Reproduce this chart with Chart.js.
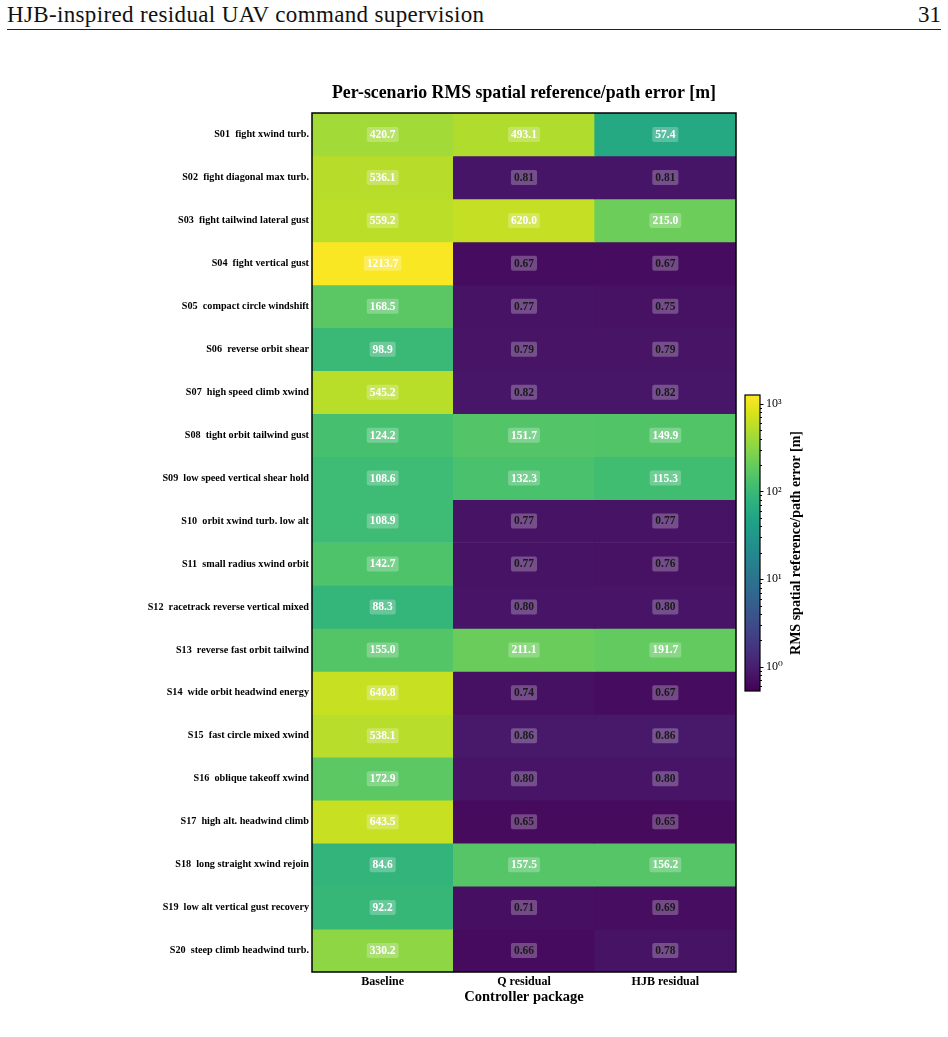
<!DOCTYPE html>
<html>
<head>
<meta charset="utf-8">
<script src="https://cdn.jsdelivr.net/npm/chart.js@4.4.1/dist/chart.umd.min.js"></script>
<style>
  body { margin: 0; background: #fff; width: 948px; height: 1037px; overflow: hidden; position: relative; }
  .page-head { position: absolute; left: 7px; top: 2px; width: 934px; font-family: "Liberation Serif", serif; font-size: 23px; letter-spacing: 0.35px; color: #111; }
  .page-head .num { position: absolute; right: 0; top: 0; letter-spacing: 0; }
  .page-rule { position: absolute; left: 7px; top: 29px; width: 934px; height: 1px; background: #222; }
  #heat { position: absolute; left: 0; top: 0; }
  #cbar { position: absolute; left: 720px; top: 380px; }
</style>
</head>
<body>
<div class="page-head">HJB-inspired residual UAV command supervision<span class="num">31</span></div>
<div class="page-rule"></div>
<canvas id="heat" width="948" height="1037"></canvas>
<canvas id="cbar" width="120" height="330"></canvas>
<script>
// scenarios (rows) and controller packages (columns)
const scenarios = [
  "S01  fight xwind turb.",
  "S02  fight diagonal max turb.",
  "S03  fight tailwind lateral gust",
  "S04  fight vertical gust",
  "S05  compact circle windshift",
  "S06  reverse orbit shear",
  "S07  high speed climb xwind",
  "S08  tight orbit tailwind gust",
  "S09  low speed vertical shear hold",
  "S10  orbit xwind turb. low alt",
  "S11  small radius xwind orbit",
  "S12  racetrack reverse vertical mixed",
  "S13  reverse fast orbit tailwind",
  "S14  wide orbit headwind energy",
  "S15  fast circle mixed xwind",
  "S16  oblique takeoff xwind",
  "S17  high alt. headwind climb",
  "S18  long straight xwind rejoin",
  "S19  low alt vertical gust recovery",
  "S20  steep climb headwind turb."
];
const controllers = ["Baseline", "Q residual", "HJB residual"];

// RMS error [m]
const baseline = [420.7, 536.1, 559.2, 1213.7, 168.5, 98.9, 545.2, 124.2, 108.6, 108.9, 142.7, 88.3, 155.0, 640.8, 538.1, 172.9, 643.5, 84.6, 92.2, 330.2];
const qResidual = [493.1, 0.81, 620.0, 0.67, 0.77, 0.79, 0.82, 151.7, 132.3, 0.77, 0.77, 0.80, 211.1, 0.74, 0.86, 0.80, 0.65, 157.5, 0.71, 0.66];
const hjbResidual = [57.4, 0.81, 215.0, 0.67, 0.75, 0.79, 0.82, 149.9, 115.3, 0.77, 0.76, 0.80, 191.7, 0.67, 0.86, 0.80, 0.65, 156.2, 0.69, 0.78];

// colorbar
const cbarTicks = [1, 10, 100, 1000];
const cbarTickLabels = ["10\u2070", "10\u00b9", "10\u00b2", "10\u00b3"];
const vmin = 0.53;
const vmax = 1260;

const SERIF = '"Liberation Serif", "DejaVu Serif", serif';
const TITLE = "Per-scenario RMS spatial reference/path error [m]";

// viridis, 17 stops
const viridis = ["#440154", "#48186a", "#472d7b", "#424086", "#3b528b", "#33638d", "#2c728e", "#26828e",
  "#21918c", "#1fa088", "#28ae80", "#3fbc73", "#5ec962", "#84d44b", "#addc30", "#d8e219", "#fde725"];
const hex = h => [parseInt(h.slice(1, 3), 16), parseInt(h.slice(3, 5), 16), parseInt(h.slice(5, 7), 16)];
const viridisRgb = viridis.map(hex);

const colorFor = v => {
  let t = (Math.log10(v) - Math.log10(vmin)) / (Math.log10(vmax) - Math.log10(vmin));
  t = Math.min(1, Math.max(0, t));
  const p = t * (viridisRgb.length - 1);
  const i = Math.min(Math.floor(p), viridisRgb.length - 2);
  const f = p - i;
  const a = viridisRgb[i], b = viridisRgb[i + 1];
  const c = a.map((x, k) => Math.round(x + (b[k] - x) * f));
  return `rgb(${c[0]}, ${c[1]}, ${c[2]})`;
};

const table = scenarios.map((_, i) => [baseline[i], qResidual[i], hjbResidual[i]]);

// cell value labels, frame and title over the plot
const cellLabels = {
  id: "cellLabels",
  afterDatasetsDraw(chart) {
    const ctx = chart.ctx;
    ctx.save();
    ctx.font = `bold 11.5px ${SERIF}`;
    ctx.textAlign = "center";
    ctx.textBaseline = "middle";
    chart.data.datasets.forEach((ds, i) => {
      chart.getDatasetMeta(i).data.forEach((el, j) => {
        const v = table[i][j];
        const txt = v >= 10 ? v.toFixed(1) : v.toFixed(2);
        const x = el.x;
        const y = (el.y + el.base) / 2;
        const w = ctx.measureText(txt).width + 6;
        const h = 15;
        ctx.fillStyle = "rgba(255, 255, 255, 0.25)";
        ctx.beginPath();
        ctx.roundRect(x - w / 2, y - h / 2, w, h, 2);
        ctx.fill();
        ctx.fillStyle = v >= 10 ? "#ffffff" : "#1a1a1a";
        ctx.fillText(txt, x, y + 0.5);
      });
    });
    const a = chart.chartArea;
    ctx.strokeStyle = "#000";
    ctx.lineWidth = 1.5;
    ctx.strokeRect(a.left, a.top, a.right - a.left, a.bottom - a.top);
    ctx.fillStyle = "#000";
    ctx.font = `bold 17.8px ${SERIF}`;
    ctx.fillText(TITLE, (a.left + a.right) / 2, 93);
    ctx.restore();
  }
};

new Chart(document.getElementById("heat"), {
  type: "bar",
  data: {
    labels: controllers,
    datasets: scenarios.map((s, i) => ({
      label: s,
      data: controllers.map(() => [i, i + 1]),
      backgroundColor: table[i].map(colorFor),
      borderWidth: 0,
      categoryPercentage: 1,
      barPercentage: 1
    }))
  },
  options: {
    responsive: false,
    animation: false,
    devicePixelRatio: 1,
    layout: { padding: { left: 0, right: 212, top: 113, bottom: 0 } },
    plugins: {
      legend: { display: false },
      tooltip: { enabled: false }
    },
    scales: {
      x: {
        stacked: true,
        grid: { display: false, drawTicks: false },
        border: { display: false },
        ticks: { color: "#000", font: { family: SERIF, size: 12, weight: "bold" }, padding: 3 },
        title: {
          display: true,
          text: "Controller package",
          color: "#000",
          font: { family: SERIF, size: 14.5, weight: "bold" },
          padding: { top: 0, bottom: 31 }
        },
        afterFit: s => { s.height = 65; }
      },
      y: {
        min: 0,
        max: scenarios.length,
        reverse: true,
        grid: { display: false, drawTicks: false },
        border: { display: false },
        afterBuildTicks: s => { s.ticks = scenarios.map((_, i) => ({ value: i + 0.5 })); },
        ticks: {
          autoSkip: false,
          color: "#000",
          font: { family: SERIF, size: 10.2, weight: "bold" },
          padding: 3,
          callback: (v, idx) => scenarios[idx]
        },
        afterFit: s => { s.width = 312; }
      }
    }
  },
  plugins: [cellLabels]
});

// colorbar: gradient, ticks and label on a log scale
const cbarDraw = {
  id: "cbarDraw",
  beforeDatasetsDraw(chart) {
    const ctx = chart.ctx, a = chart.chartArea, sc = chart.scales.y;
    for (let y = Math.floor(a.top); y < a.bottom; y++) {
      ctx.fillStyle = colorFor(sc.getValueForPixel(y + 0.5));
      ctx.fillRect(a.left, y, a.right - a.left, 1);
    }
  },
  afterDraw(chart) {
    const ctx = chart.ctx, a = chart.chartArea, sc = chart.scales.y;
    ctx.save();
    ctx.strokeStyle = "#000";
    ctx.lineWidth = 1;
    sc.ticks.forEach(t => {
      const y = Math.round(sc.getPixelForValue(t.value)) + 0.5;
      const len = cbarTicks.includes(t.value) ? 3.5 : 2;
      ctx.beginPath();
      ctx.moveTo(a.right, y);
      ctx.lineTo(a.right + len, y);
      ctx.stroke();
    });
    ctx.lineWidth = 1.2;
    ctx.strokeRect(a.left, a.top, a.right - a.left, a.bottom - a.top);
    ctx.translate(a.right + 36, (a.top + a.bottom) / 2);
    ctx.rotate(-Math.PI / 2);
    ctx.fillStyle = "#000";
    ctx.font = `bold 14px ${SERIF}`;
    ctx.textAlign = "center";
    ctx.textBaseline = "middle";
    ctx.fillText("RMS spatial reference/path error [m]", 0, 0);
    ctx.restore();
  }
};

const minorTicks = [];
[0.1, 1, 10, 100].forEach(d => { for (let k = 1; k <= 9; k++) minorTicks.push(+(k * d).toPrecision(3)); });
minorTicks.push(1000);

new Chart(document.getElementById("cbar"), {
  type: "bar",
  data: { labels: [""], datasets: [] },
  options: {
    responsive: false,
    animation: false,
    devicePixelRatio: 1,
    layout: { padding: { left: 25, top: 15, bottom: 19, right: 0 } },
    plugins: { legend: { display: false }, tooltip: { enabled: false } },
    scales: {
      x: { display: false },
      y: {
        type: "logarithmic",
        position: "right",
        min: vmin,
        max: vmax,
        grid: { display: false, drawTicks: false },
        border: { display: false },
        afterBuildTicks: s => { s.ticks = minorTicks.filter(v => v >= vmin && v <= vmax).map(v => ({ value: v })); },
        ticks: {
          autoSkip: false,
          color: "#000",
          font: { family: SERIF, size: 12 },
          padding: 6,
          callback: v => {
            const k = cbarTicks.indexOf(v);
            return k >= 0 ? cbarTickLabels[k] : "";
          }
        },
        afterFit: s => { s.width = 80; }
      }
    }
  },
  plugins: [cbarDraw]
});
</script>
</body>
</html>
